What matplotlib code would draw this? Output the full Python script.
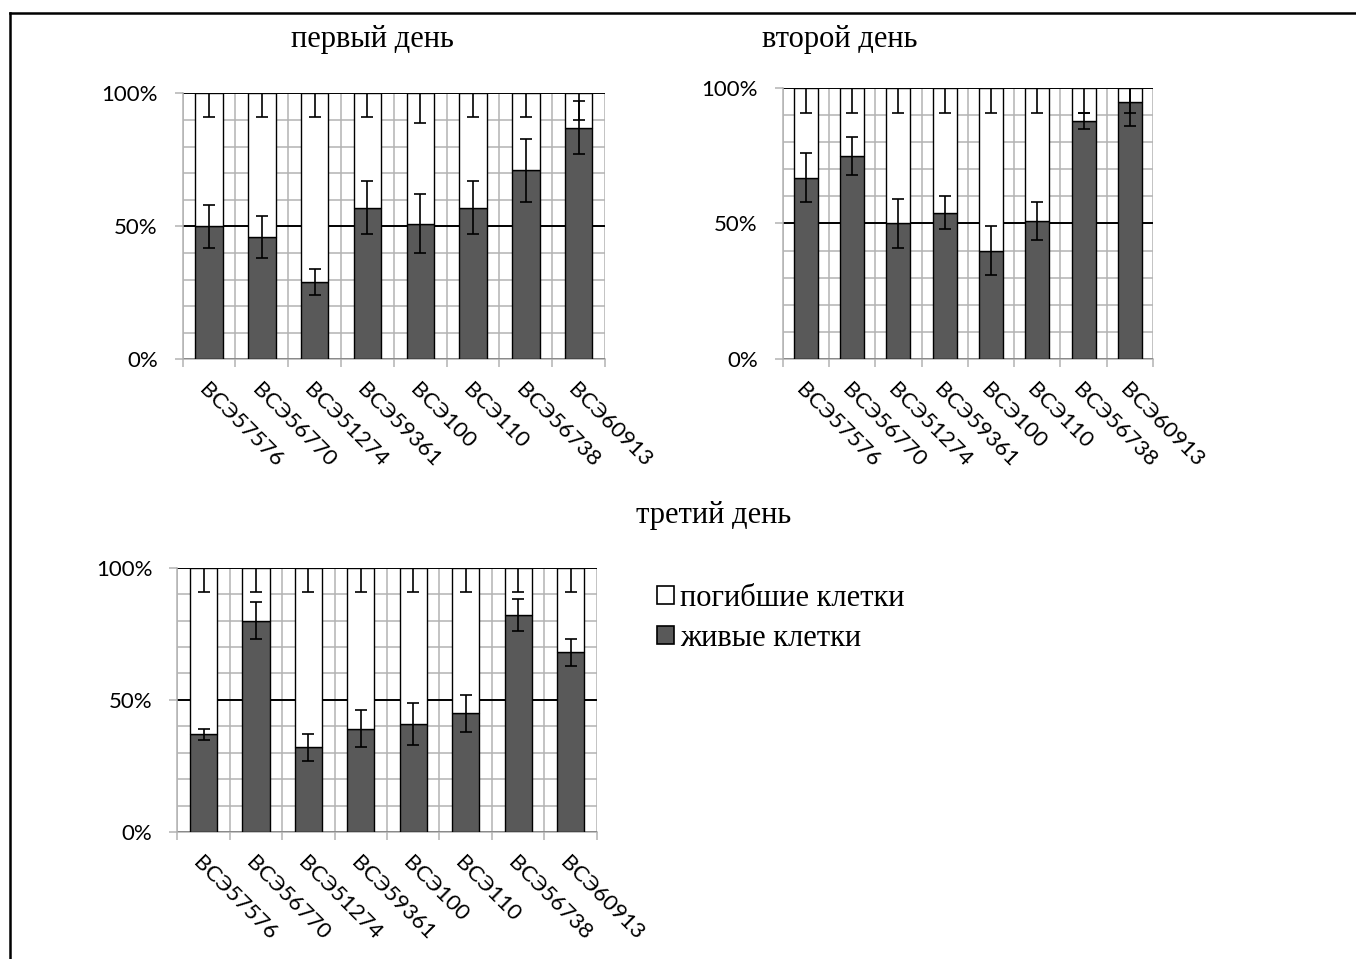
import matplotlib
matplotlib.use("Agg")
from matplotlib import pyplot as plt
from matplotlib.patches import Patch
from matplotlib.lines import Line2D
import numpy as np

# strains on the x axis
labels = ['ВСЭ57576', 'ВСЭ56770', 'ВСЭ51274', 'ВСЭ59361',
          'ВСЭ100', 'ВСЭ110', 'ВСЭ56738', 'ВСЭ60913']

# share of live cells, %, and error bars
day1_live = [50, 46, 29, 57, 51, 57, 71, 87]
day1_live_err = [8, 8, 5, 10, 11, 10, 12, 10]
day1_dead_err = [9, 9, 9, 9, 11, 9, 9, 10]

day2_live = [67, 75, 50, 54, 40, 51, 88, 95]
day2_live_err = [9, 7, 9, 6, 9, 7, 3, 9]
day2_dead_err = [9, 9, 9, 9, 9, 9, 9, 9]

day3_live = [37, 80, 32, 39, 41, 45, 82, 68]
day3_live_err = [2, 7, 5, 7, 8, 7, 6, 5]
day3_dead_err = [9, 9, 9, 9, 9, 9, 9, 9]

titles = ['первый день', 'второй день', 'третий день']
legend_labels = ['погибшие клетки', 'живые клетки']

SANS = ['Lato', 'Noto Sans', 'DejaVu Sans']
SERIF = ['Liberation Serif', 'DejaVu Serif']
DARK = '#595959'
GRID = '#b3b3b3'
W, H = 1356, 959


def draw_panel(ax, live, live_err, dead_err):
    x = np.arange(len(labels))
    live = np.array(live)
    dead = 100 - live
    ax.bar(x, live, width=0.52, color=DARK, edgecolor='black', linewidth=1.0, zorder=3)
    ax.bar(x, dead, width=0.52, bottom=live, color='white', edgecolor='black',
           linewidth=1.0, zorder=3)
    ax.errorbar(x, live, yerr=live_err, fmt='none', ecolor='black',
                elinewidth=1.2, capsize=4.5, capthick=1.2, zorder=4)
    ax.errorbar(x, live + dead, yerr=dead_err, fmt='none', ecolor='black',
                elinewidth=1.2, capsize=4.5, capthick=1.2, zorder=4)

    ax.set_xlim(-0.5, len(labels) - 0.5)
    ax.set_ylim(0, 100)

    # gridlines: black at 50/100, grey every 10%
    ax.set_yticks([0, 50, 100])
    ax.set_yticklabels(['0%', '50%', '100%'], family=SANS, fontsize=16)
    ax.set_yticks(np.arange(10, 100, 10), minor=True)
    ax.grid(axis='y', which='major', color='black', linewidth=1.4, zorder=1)
    ax.grid(axis='y', which='minor', color=GRID, linewidth=1.1, zorder=1)

    ax.set_xticks(x)
    ax.set_xticklabels(labels, family=SANS, fontsize=16, rotation=-45,
                       ha='left', va='top', rotation_mode='anchor')
    ax.set_xticks(np.arange(-0.5, len(labels), 1.0), minor=True)
    ax.grid(axis='x', which='minor', color=GRID, linewidth=1.1, zorder=1)

    ax.tick_params(axis='x', which='major', length=0, pad=15)
    ax.tick_params(axis='x', which='minor', length=6, width=1.1, color=GRID)
    ax.tick_params(axis='y', which='major', length=6, width=1.1, color=GRID, pad=12)
    ax.tick_params(axis='y', which='minor', length=0)

    ax.set_axisbelow(True)
    for s in ['top', 'right']:
        ax.spines[s].set_visible(False)
    for s in ['left', 'bottom']:
        ax.spines[s].set_color(GRID)
        ax.spines[s].set_linewidth(1.1)
        ax.spines[s].set_zorder(2)


fig = plt.figure(figsize=(W / 100, H / 100), dpi=100)

ax1 = fig.add_axes([0.1347, 0.6253, 0.3115, 0.2774])
ax2 = fig.add_axes([0.5772, 0.6260, 0.2731, 0.2819])
ax3 = fig.add_axes([0.1308, 0.1324, 0.3093, 0.2756])

draw_panel(ax1, day1_live, day1_live_err, day1_dead_err)
draw_panel(ax2, day2_live, day2_live_err, day2_dead_err)
draw_panel(ax3, day3_live, day3_live_err, day3_dead_err)

fig.text(372 / W, 1 - 40 / H, titles[0], family=SERIF, fontsize=22,
         ha='center', va='center')
fig.text(840 / W, 1 - 40 / H, titles[1], family=SERIF, fontsize=22,
         ha='center', va='center')
fig.text(714 / W, 1 - 515 / H, titles[2], family=SERIF, fontsize=22,
         ha='center', va='center')

handles = [Patch(facecolor='white', edgecolor='black', linewidth=1.2),
           Patch(facecolor=DARK, edgecolor='black', linewidth=1.2)]
fig.legend(handles, legend_labels, loc='upper left',
           bbox_to_anchor=(657 / W, 1 - 584 / H),
           prop={'family': SERIF, 'size': 22}, frameon=False,
           handlelength=0.55, handleheight=0.55, handletextpad=0.2,
           labelspacing=0.35, borderaxespad=0, borderpad=0)

# page frame: top and left edges
fig.add_artist(Line2D([10 / W, 1], [1 - 13 / H, 1 - 13 / H],
                      transform=fig.transFigure, color='black', linewidth=1.8))
fig.add_artist(Line2D([10 / W, 10 / W], [1 - 13 / H, 0],
                      transform=fig.transFigure, color='black', linewidth=1.8))

fig.savefig('out.png', dpi=100)
